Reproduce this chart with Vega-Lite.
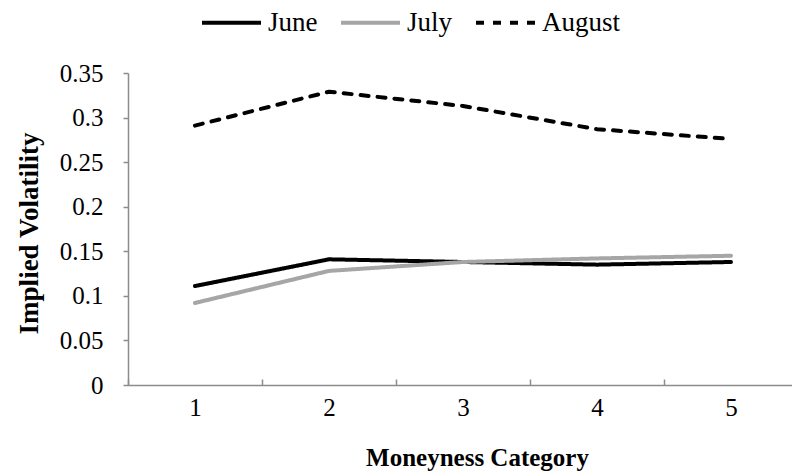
{
  "$schema": "https://vega.github.io/schema/vega-lite/v6.json",
  "autosize": "none",
  "width": 670,
  "height": 312,
  "padding": {"left": 128, "top": 73, "right": 0, "bottom": 90},
  "background": "white",
  "config": {
    "view": {"stroke": null},
    "font": "Liberation Serif"
  },
  "data": {
    "values": [
      {"month": "June", "category": "1", "iv": 0.111},
      {"month": "June", "category": "2", "iv": 0.141},
      {"month": "June", "category": "3", "iv": 0.138},
      {"month": "June", "category": "4", "iv": 0.135},
      {"month": "June", "category": "5", "iv": 0.138},
      {"month": "July", "category": "1", "iv": 0.092},
      {"month": "July", "category": "2", "iv": 0.128},
      {"month": "July", "category": "3", "iv": 0.138},
      {"month": "July", "category": "4", "iv": 0.142},
      {"month": "July", "category": "5", "iv": 0.145},
      {"month": "August", "category": "1", "iv": 0.291},
      {"month": "August", "category": "2", "iv": 0.329},
      {"month": "August", "category": "3", "iv": 0.313},
      {"month": "August", "category": "4", "iv": 0.287},
      {"month": "August", "category": "5", "iv": 0.276}
    ]
  },
  "mark": {"type": "line", "strokeWidth": 4, "strokeCap": "round", "strokeJoin": "round"},
  "encoding": {
    "x": {
      "field": "category",
      "type": "ordinal",
      "bandPosition": 0.5,
      "scale": {"type": "band", "paddingInner": 0, "paddingOuter": 0},
      "axis": {
        "title": "Moneyness Category",
        "titleFont": "Liberation Serif",
        "titleFontWeight": "bold",
        "titleFontSize": 25,
        "titleColor": "black",
        "titleX": 349,
        "titleY": 72,
        "titleBaseline": "middle",
        "labelAngle": 0,
        "labelFont": "Liberation Serif",
        "labelFontSize": 25,
        "labelColor": "black",
        "labelPadding": 16,
        "tickBand": "extent",
        "tickSize": -6,
        "tickColor": "#8c8c8c",
        "domainColor": "#8c8c8c",
        "domainWidth": 1.5,
        "tickWidth": 1.5,
        "grid": false
      }
    },
    "y": {
      "field": "iv",
      "type": "quantitative",
      "scale": {"domain": [0, 0.35], "nice": false, "zero": true},
      "axis": {
        "title": "Implied Volatility",
        "titleFont": "Liberation Serif",
        "titleFontWeight": "bold",
        "titleFontSize": 27,
        "titleColor": "black",
        "titleX": -99,
        "titleY": 160,
        "titleAngle": 270,
        "titleAlign": "center",
        "titleBaseline": "middle",
        "values": [0, 0.05, 0.1, 0.15, 0.2, 0.25, 0.3, 0.35],
        "format": ".2~f",
        "labelFont": "Liberation Serif",
        "labelFontSize": 25,
        "labelColor": "black",
        "labelPadding": 20,
        "tickSize": 5,
        "tickColor": "#8c8c8c",
        "domainColor": "#8c8c8c",
        "domainWidth": 1.5,
        "tickWidth": 1.5,
        "grid": false
      }
    },
    "color": {
      "field": "month",
      "type": "nominal",
      "scale": {"domain": ["June", "July", "August"], "range": ["#000000", "#a6a6a6", "#000000"]},
      "legend": {
        "title": null,
        "orient": "none",
        "direction": "horizontal",
        "legendX": 72,
        "legendY": -82,
        "symbolType": "stroke",
        "symbolSize": 3481,
        "symbolStrokeWidth": 4,
        "labelFont": "Liberation Serif",
        "labelFontSize": 27,
        "labelColor": "black",
        "labelOffset": 5,
        "columnPadding": 15
      }
    },
    "strokeDash": {
      "field": "month",
      "type": "nominal",
      "scale": {"domain": ["June", "July", "August"], "range": [[1, 0], [1, 0], [8, 9]]},
      "legend": {
        "title": null,
        "orient": "none",
        "direction": "horizontal",
        "legendX": 72,
        "legendY": -82,
        "symbolType": "stroke",
        "symbolSize": 3481,
        "symbolStrokeWidth": 4,
        "labelFont": "Liberation Serif",
        "labelFontSize": 27,
        "labelColor": "black",
        "labelOffset": 5,
        "columnPadding": 15
      }
    }
  }
}
